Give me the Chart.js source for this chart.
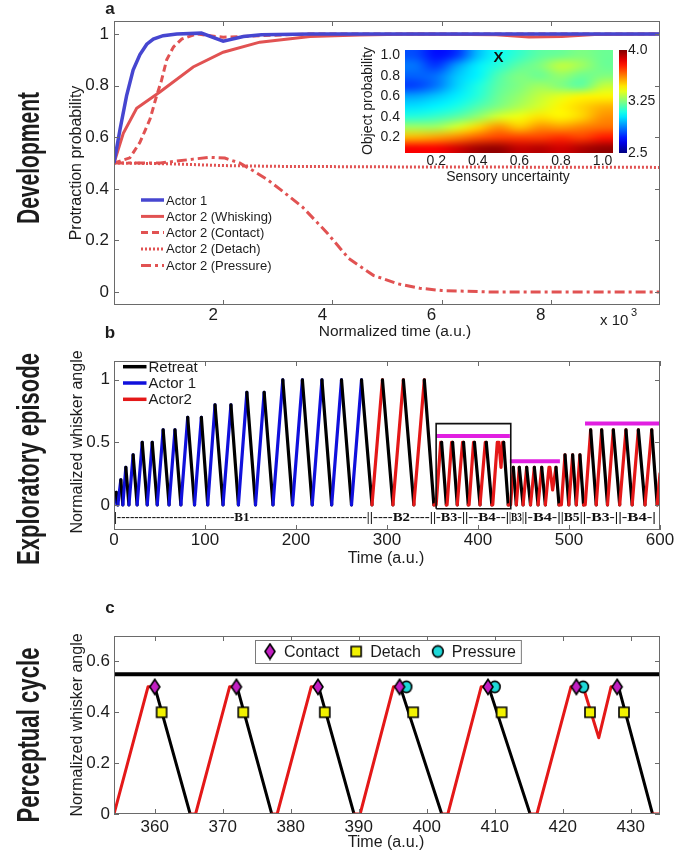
<!DOCTYPE html>
<html>
<head>
<meta charset="utf-8">
<title>Actor learning, exploratory episode and perceptual cycle</title>
<script src="https://cdn.jsdelivr.net/npm/chart.js@4.4.1/dist/chart.umd.min.js"></script>
<style>
  html, body { margin: 0; padding: 0; background: #fff; }
  #fig { position: relative; width: 674px; height: 852px; overflow: hidden; }
  #fig canvas { position: absolute; left: 0; top: 0; }
</style>
</head>
<body>
<div id="fig">
  <canvas id="panelA" width="674" height="852"></canvas>
  <canvas id="inset" width="674" height="852"></canvas>
  <canvas id="panelB" width="674" height="852"></canvas>
  <canvas id="panelC" width="674" height="852"></canvas>
</div>
<script>
// ─── Panel a: protraction probability during development ─────────────────────
const act1T      = [0, 110, 230, 350, 475, 600, 720, 900, 1150, 1600, 2000, 2370, 2700, 3600, 10000];
const act1P      = [0.5, 0.63, 0.76, 0.86, 0.92, 0.96, 0.98, 0.993, 1.0, 1.003, 0.972, 0.99, 0.997, 1.0, 1.0];
const whiskingT  = [0, 170, 415, 840, 1450, 2000, 2670, 3590, 4500, 5500, 7000, 7600, 8200, 8800, 10000];
const whiskingP  = [0.5, 0.615, 0.712, 0.775, 0.872, 0.929, 0.968, 0.99, 0.996, 1.0, 0.997, 0.988, 0.99, 0.998, 1.0];
const contactT   = [0, 290, 475, 660, 780, 870, 965, 1090, 1240, 1510, 1760, 2000, 2670, 3600, 10000];
const contactP   = [0.5, 0.52, 0.58, 0.67, 0.76, 0.82, 0.9, 0.95, 0.98, 1.0, 0.993, 0.987, 0.993, 1.0, 1.0];
const detachT    = [0, 1000, 2000, 3000, 5000, 10000];
const detachP    = [0.5, 0.497, 0.49, 0.487, 0.485, 0.483];
const pressureT  = [0, 850, 1450, 1750, 2030, 2300, 2550, 2800, 3050, 3450, 3900, 4300, 4750, 5200, 5600, 6000, 7000, 10000];
const pressureP  = [0.5, 0.5, 0.515, 0.522, 0.519, 0.5, 0.47, 0.437, 0.397, 0.33, 0.23, 0.13, 0.065, 0.032, 0.015, 0.006, 0, 0];
const devXTicks  = [2000, 4000, 6000, 8000];
const devYTicks  = [0, 0.2, 0.4, 0.6, 0.8, 1];

// inset: cost over sensory uncertainty x object probability
const uncertainty = [0.1, 0.2, 0.3, 0.4, 0.5, 0.6, 0.7, 0.8, 0.9, 1.0];
const objectProb  = [0.1, 0.2, 0.3, 0.4, 0.5, 0.6, 0.7, 0.8, 0.9, 1.0];
// rows from object probability 1.0 (top) down to 0.1, columns follow uncertainty
const costGrid = [
  [2.80, 2.70, 2.76, 2.97, 3.08, 3.14, 3.20, 3.22, 3.25, 3.22],
  [2.86, 2.76, 2.92, 3.04, 3.12, 3.20, 3.25, 3.35, 3.30, 3.22],
  [2.83, 2.85, 2.98, 3.05, 3.18, 3.25, 3.22, 3.28, 3.22, 3.25],
  [2.78, 2.86, 3.00, 3.10, 3.20, 3.25, 3.30, 3.25, 3.20, 3.35],
  [2.93, 2.98, 3.04, 3.12, 3.22, 3.28, 3.35, 3.40, 3.45, 3.45],
  [3.02, 3.05, 3.10, 3.18, 3.25, 3.32, 3.38, 3.45, 3.50, 3.55],
  [3.12, 3.15, 3.20, 3.28, 3.38, 3.42, 3.48, 3.45, 3.50, 3.60],
  [3.30, 3.30, 3.38, 3.50, 3.60, 3.52, 3.60, 3.58, 3.62, 3.65],
  [3.55, 3.58, 3.62, 3.68, 3.72, 3.72, 3.72, 3.75, 3.72, 3.78],
  [3.82, 3.82, 3.88, 3.95, 3.97, 3.90, 3.92, 3.88, 3.93, 3.97],
];
const costRange = [2.5, 4.0];
const costTicks = [2.5, 3.25, 4.0];
const insetTicks = [0.2, 0.4, 0.6, 0.8, 1.0];
const optimum = [0.5, 0.97];

// ─── Panel b: whisker angle over one exploratory episode ─────────────────────
const angleT = [
  0, 2.5, 4.2, 7.5, 9.7, 13, 16.4, 21, 25.4, 31, 36.5, 42, 47.5, 54, 60.5, 67, 73.5,
  81, 88.5, 96, 103, 111, 119.8, 128.5, 136.7, 146, 155.5, 165, 174.7, 185.5, 196.2,
  207, 217.8, 228.5, 239.2, 250, 261, 272, 283.5, 295, 306.5, 318, 329.5, 341, 351.5,
  354, 359, 360, 365.2, 366, 371, 372.1, 377.2, 378, 383, 384.1, 389.3, 390.2, 395.1,
  396.1, 402.2, 403.1, 408, 409.1, 415.2, 416.2, 421.2, 423, 425.3, 427.1, 428.2, 433.2,
  435.8, 438.8, 442.1, 445.4, 449.5, 453.5, 457.7, 461.9, 466, 470, 474, 478, 479, 482,
  485.7, 489, 491.6, 495.6, 499.8, 504, 508, 512, 516, 517.8, 523.8, 529.9, 535.9,
  542.3, 548.7, 555.7, 562.6, 569.4, 576.2, 583.5, 590.9, 596.9, 597.5, 600
];
const angleA = [
  0, 0.1, 0, 0.2, 0, 0.3, 0, 0.4, 0, 0.5, 0, 0.5, 0, 0.6, 0, 0.6, 0,
  0.7, 0, 0.7, 0, 0.8, 0, 0.8, 0, 0.9, 0, 0.9, 0, 1, 0,
  1, 0, 1, 0, 1, 0, 1, 0, 1, 0, 1, 0, 1, 0,
  0, 0.5, 0.5, 0, 0, 0.5, 0.5, 0, 0, 0.5, 0.5, 0, 0, 0.5,
  0.5, 0, 0, 0.5, 0.5, 0, 0, 0.5, 0.5, 0.3, 0.5, 0.5, 0,
  0, 0.3, 0, 0.3, 0, 0.3, 0, 0.3, 0, 0.3, 0, 0.3, 0.3, 0.12,
  0.3, 0, 0, 0.4, 0, 0.4, 0, 0.4, 0, 0, 0.6, 0, 0.6,
  0, 0.6, 0, 0.6, 0, 0.6, 0, 0.6, 0, 0, 0.25
];
const actor2From  = 283.5;                 // Actor 2 drives protraction from here on
const targetFrom  = [354.6, 435, 517.6];
const targetTo    = [435, 490, 600];
const targetLevel = [0.55, 0.35, 0.65];
const zoomBoxT    = [354, 436];
const zoomBoxA    = [-0.03, 0.65];
const blockEdges  = [0, 281, 350.5, 385.7, 434, 450.5, 491, 515, 554, 595.6];
const blockNames  = ['B1', 'B2', 'B3', 'B4', 'B3', 'B4', 'B5', 'B3', 'B4'];
const blockRowA   = -0.105;
const epiXTicks   = [0, 100, 200, 300, 400, 500, 600];
const epiYTicks   = [0, 0.5, 1];
const epiLegend   = ['Retreat', 'Actor 1', 'Actor2'];

// ─── Panel c: single perceptual cycles (zoom of the boxed part of b) ─────────
const contactEvT  = [360, 372, 384, 396, 409, 422, 428];
const contactEvA  = [0.5, 0.5, 0.5, 0.5, 0.5, 0.5, 0.5];
const detachEvT   = [361, 373, 385, 398, 411, 424, 429];
const detachEvA   = [0.4, 0.4, 0.4, 0.4, 0.4, 0.4, 0.4];
const pressureEvT = [397, 410, 423];
const pressureEvA = [0.5, 0.5, 0.5];
const thresholdA  = 0.55;
const cycRange    = [354, 434.3];
const cycXTicks   = [360, 370, 380, 390, 400, 410, 420, 430];
const cycYTicks   = [0, 0.2, 0.4, 0.6];

// ─── styling ─────────────────────────────────────────────────────────────────
const W = 674, H = 852;
const SANS = '"Liberation Sans", Arial, Helvetica, sans-serif';
const ROW_FONT = `bold 32px "Liberation Sans Narrow", ${SANS}`;
const INK = '#1c1c1c', FRAME = '#6a6a6a';
const BLUE_A = '#4646d0', RED_A = '#e15252';
const ACTOR1 = '#1010dc', ACTOR2 = '#e41818', RETREAT = '#000000', TARGET = '#e11fe1';

Chart.defaults.font.family = SANS;
Chart.defaults.color = INK;

const xy = (xs, ys) => xs.map((x, i) => ({ x, y: ys[i] }));

function zeroPad(s) { s.paddingLeft = s.paddingRight = s.paddingTop = s.paddingBottom = 0; }

// chart area placed at fixed page coordinates (all canvases cover the whole page)
function placeArea(box, yw, xh) {
  return { autoPadding: false, padding: { left: box.l - yw, right: W - box.r, top: box.t, bottom: H - box.b - xh } };
}

function axis(min, max, values, fmt, opts) {
  return {
    type: 'linear', min, max,
    afterBuildTicks: s => { s.ticks = values.map(v => ({ value: v })); },
    afterFit: s => { if (s.isHorizontal()) s.height = opts.size; else s.width = opts.size; zeroPad(s); },
    grid: { display: false, drawTicks: false },
    border: { display: false },
    ticks: {
      font: { family: SANS, size: opts.font || 17 }, color: INK, padding: opts.pad ?? 3,
      labelOffset: opts.offset || 0, maxRotation: 0, minRotation: 0, autoSkip: false, callback: fmt,
    },
  };
}

// MATLAB-like box with inward tick marks on all four sides
function framePlugin() {
  return {
    id: 'frame',
    afterDatasetsDraw(chart) {
      const { ctx, chartArea: a, scales: { x, y } } = chart;
      const len = 5;
      ctx.save();
      ctx.strokeStyle = FRAME;
      ctx.lineWidth = 1;
      ctx.beginPath();
      for (const t of x.ticks) {
        const px = Math.round(x.getPixelForValue(t.value)) + 0.5;
        ctx.moveTo(px, a.bottom); ctx.lineTo(px, a.bottom - len);
        ctx.moveTo(px, a.top); ctx.lineTo(px, a.top + len);
      }
      for (const t of y.ticks) {
        const py = Math.round(y.getPixelForValue(t.value)) + 0.5;
        ctx.moveTo(a.left, py); ctx.lineTo(a.left + len, py);
        ctx.moveTo(a.right, py); ctx.lineTo(a.right - len, py);
      }
      ctx.stroke();
      ctx.strokeRect(a.left + 0.5, a.top + 0.5, a.right - a.left - 1, a.bottom - a.top - 1);
      ctx.restore();
    },
  };
}

// free text at page coordinates (titles, panel letters, row labels)
function textPlugin(items) {
  return {
    id: 'texts',
    afterDraw(chart) {
      const ctx = chart.ctx;
      for (const t of items) {
        ctx.save();
        ctx.font = t.font;
        ctx.fillStyle = t.color || INK;
        ctx.textAlign = t.align || 'center';
        ctx.textBaseline = 'middle';
        ctx.translate(t.x, t.y);
        if (t.rot) ctx.rotate(t.rot * Math.PI / 180);
        if (t.fit) ctx.scale(t.fit / ctx.measureText(t.text).width, 1);
        ctx.fillText(t.text, 0, 0);
        ctx.restore();
      }
    },
  };
}

// plain line-sample legend, no box
function lineKeyPlugin(items, x1, x2, ys, font) {
  return {
    id: 'lineKey',
    afterDraw(chart) {
      const ctx = chart.ctx;
      ctx.save();
      ctx.font = font;
      ctx.fillStyle = INK;
      ctx.textBaseline = 'middle';
      items.forEach((it, i) => {
        ctx.strokeStyle = it.color;
        ctx.lineWidth = it.width;
        ctx.setLineDash(it.dash || []);
        ctx.beginPath();
        ctx.moveTo(x1, ys[i]); ctx.lineTo(x2, ys[i]);
        ctx.stroke();
        ctx.fillText(it.label, x2 + 2, ys[i] + 1);
      });
      ctx.restore();
    },
  };
}

function jet(t) {
  t = Math.max(0, Math.min(1, t));
  const f = c => Math.round(255 * Math.max(0, Math.min(1, 1.5 - Math.abs(4 * t - c))));
  return [f(3), f(2), f(1)];
}

// ─── Panel a ─────────────────────────────────────────────────────────────────
const boxA = { l: 114, r: 660, t: 21, b: 305 };
const devSets = [
  { label: 'Actor 1', t: act1T, p: act1P, color: BLUE_A, width: 3.5, dash: [] },
  { label: 'Actor 2 (Whisking)', t: whiskingT, p: whiskingP, color: RED_A, width: 3, dash: [] },
  { label: 'Actor 2 (Contact)', t: contactT, p: contactP, color: RED_A, width: 3, dash: [7, 4] },
  { label: 'Actor 2 (Detach)', t: detachT, p: detachP, color: RED_A, width: 3, dash: [2, 2] },
  { label: 'Actor 2 (Pressure)', t: pressureT, p: pressureP, color: RED_A, width: 3, dash: [10, 4, 3, 4] },
];

new Chart(document.getElementById('panelA'), {
  type: 'line',
  data: {
    datasets: devSets.map(d => ({
      label: d.label, data: xy(d.t, d.p),
      borderColor: d.color, borderWidth: d.width, borderDash: d.dash,
      pointRadius: 0, tension: 0, fill: false,
    })),
  },
  options: {
    responsive: false, animation: false, events: [], devicePixelRatio: 1,
    layout: placeArea(boxA, 50, 30),
    scales: {
      x: axis(0, 10000, devXTicks, v => v / 1000, { size: 30, pad: 0, offset: -10 }),
      y: axis(-0.05, 1.05, devYTicks, v => String(v), { size: 50, pad: 5 }),
    },
    plugins: { legend: { display: false }, tooltip: { enabled: false } },
  },
  plugins: [
    framePlugin(),
    lineKeyPlugin(devSets, 141, 164, [200, 216.4, 232.6, 248.9, 265.4], `13px ${SANS}`),
    textPlugin([
      { text: 'a', x: 110, y: 9, font: `bold 17px ${SANS}` },
      { text: 'Protraction probability', x: 77, y: 163, rot: -90, font: `16px ${SANS}` },
      { text: 'Normalized time (a.u.)', x: 395, y: 332, font: `15.5px ${SANS}` },
      { text: 'x 10', x: 600, y: 321, align: 'left', font: `15px ${SANS}` },
      { text: '3', x: 631, y: 313, align: 'left', font: `11px ${SANS}` },
      { text: 'Development', x: 30, y: 158, rot: -90, fit: 132, font: ROW_FONT },
      { text: 'Exploratory episode', x: 30, y: 459, rot: -90, fit: 212, font: ROW_FONT },
      { text: 'Perceptual cycle', x: 30, y: 735, rot: -90, fit: 175, font: ROW_FONT },
    ]),
  ],
});

// ─── Inset heat map ──────────────────────────────────────────────────────────
const boxInset = { l: 405, r: 613, t: 50, b: 153 };

const heatPlugin = {
  id: 'heat',
  beforeDatasetsDraw(chart) {
    const { ctx, scales: { x, y }, chartArea: a } = chart;
    const nx = uncertainty.length, ny = objectProb.length;
    const off = document.createElement('canvas');
    off.width = nx; off.height = ny;
    const g = off.getContext('2d');
    const img = g.createImageData(nx, ny);
    costGrid.forEach((row, r) => row.forEach((v, c) => {
      const [R, G, B] = jet((v - costRange[0]) / (costRange[1] - costRange[0]));
      const k = (r * nx + c) * 4;
      img.data[k] = R; img.data[k + 1] = G; img.data[k + 2] = B; img.data[k + 3] = 255;
    }));
    g.putImageData(img, 0, 0);
    // cells reach half a step past the first and last centres
    const du = (uncertainty[1] - uncertainty[0]) / 2, dp = (objectProb[1] - objectProb[0]) / 2;
    const left = x.getPixelForValue(uncertainty[0] - du), right = x.getPixelForValue(uncertainty[nx - 1] + du);
    const top = y.getPixelForValue(objectProb[ny - 1] + dp), bottom = y.getPixelForValue(objectProb[0] - dp);
    ctx.save();
    ctx.imageSmoothingEnabled = true;
    ctx.imageSmoothingQuality = 'high';
    ctx.drawImage(off, left, top, right - left, bottom - top);

    // colour bar
    const cbL = a.right + 6, cbW = 8;
    const grad = ctx.createLinearGradient(0, a.bottom, 0, a.top);
    for (let i = 0; i <= 20; i++) {
      const [R, G, B] = jet(i / 20);
      grad.addColorStop(i / 20, `rgb(${R},${G},${B})`);
    }
    ctx.fillStyle = grad;
    ctx.fillRect(cbL, a.top, cbW, a.bottom - a.top);
    ctx.font = `14px ${SANS}`;
    ctx.fillStyle = INK;
    ctx.textAlign = 'left';
    ctx.textBaseline = 'middle';
    for (const v of costTicks) {
      const py = a.bottom - (v - costRange[0]) / (costRange[1] - costRange[0]) * (a.bottom - a.top);
      ctx.fillText(Number.isInteger(v * 10) ? v.toFixed(1) : v.toFixed(2), cbL + cbW + 1, py);
    }
    // optimum marker
    ctx.font = `bold 15px ${SANS}`;
    ctx.textAlign = 'center';
    ctx.fillStyle = '#111';
    ctx.fillText('X', x.getPixelForValue(optimum[0]), y.getPixelForValue(optimum[1]));
    ctx.restore();
  },
};

new Chart(document.getElementById('inset'), {
  type: 'line',
  data: { datasets: [] },
  options: {
    responsive: false, animation: false, events: [], devicePixelRatio: 1,
    layout: placeArea(boxInset, 36, 18),
    scales: {
      x: axis(0.05, 1.05, insetTicks, v => v.toFixed(1), { size: 18, pad: 0, font: 14 }),
      y: axis(0.05, 1.05, insetTicks, v => v.toFixed(1), { size: 36, pad: 5, font: 14 }),
    },
    plugins: { legend: { display: false }, tooltip: { enabled: false } },
  },
  plugins: [
    heatPlugin,
    textPlugin([
      { text: 'Object probability', x: 368, y: 101, rot: -90, font: `14px ${SANS}` },
      { text: 'Sensory uncertainty', x: 508, y: 177, font: `14px ${SANS}` },
    ]),
  ],
});

// ─── Panel b ─────────────────────────────────────────────────────────────────
// falls that end at rest are retreats; everything else belongs to the acting actor
const segColor = ctx => {
  const y0 = ctx.p0.parsed.y, y1 = ctx.p1.parsed.y;
  if (y1 < y0 && y1 === 0) return RETREAT;
  return ctx.p0.parsed.x < actor2From ? ACTOR1 : ACTOR2;
};

function traceSet(width) {
  return {
    data: xy(angleT, angleA), borderWidth: width, pointRadius: 0, tension: 0,
    borderColor: ACTOR2, borderCapStyle: 'round', borderJoinStyle: 'round',
    segment: { borderColor: segColor }, order: 5,
  };
}

const blockPlugin = {
  id: 'blocks',
  afterDatasetsDraw(chart) {
    const { ctx, scales: { x, y } } = chart;
    const py = y.getPixelForValue(blockRowA);
    ctx.save();
    ctx.font = `bold 13px "Liberation Serif", "Times New Roman", serif`;
    ctx.fillStyle = '#111';
    ctx.textAlign = 'left';
    ctx.textBaseline = 'middle';
    const dashW = ctx.measureText('-').width;
    blockNames.forEach((name, i) => {
      const l = x.getPixelForValue(blockEdges[i]), r = x.getPixelForValue(blockEdges[i + 1]);
      const core = ctx.measureText('|' + name + '|').width;
      const n = Math.max(0, Math.floor((r - l - core) / dashW / 2));
      const s = '|' + '-'.repeat(n) + name + '-'.repeat(n) + '|';
      const w = ctx.measureText(s).width;
      ctx.save();
      ctx.translate(l, py);
      ctx.scale((r - l) / w, 1);
      ctx.fillText(s, 0, 0);
      ctx.restore();
    });
    ctx.restore();
  },
};

const boxB = { l: 114, r: 660, t: 361, b: 530 };
new Chart(document.getElementById('panelB'), {
  type: 'line',
  data: {
    datasets: [
      traceSet(3.2),
      ...targetLevel.map((lv, i) => ({
        data: [{ x: targetFrom[i], y: lv }, { x: targetTo[i], y: lv }],
        borderColor: TARGET, borderWidth: 4, pointRadius: 0, order: 2,
      })),
      {
        data: [
          { x: zoomBoxT[0], y: zoomBoxA[0] }, { x: zoomBoxT[0], y: zoomBoxA[1] },
          { x: zoomBoxT[1], y: zoomBoxA[1] }, { x: zoomBoxT[1], y: zoomBoxA[0] },
          { x: zoomBoxT[0], y: zoomBoxA[0] },
        ],
        borderColor: '#111', borderWidth: 1.6, pointRadius: 0, order: 1,
      },
    ],
  },
  options: {
    responsive: false, animation: false, events: [], devicePixelRatio: 1,
    layout: placeArea(boxB, 50, 30),
    scales: {
      x: axis(0, 600, epiXTicks, v => String(v), { size: 30, pad: 0 }),
      y: axis(-0.2, 1.15, epiYTicks, v => String(v), { size: 50, pad: 4 }),
    },
    plugins: { legend: { display: false }, tooltip: { enabled: false } },
  },
  plugins: [
    framePlugin(),
    blockPlugin,
    lineKeyPlugin(
      epiLegend.map((label, i) => ({ label, color: [RETREAT, ACTOR1, ACTOR2][i], width: 3.5 })),
      123, 146.5, [366.7, 383, 399.3], `15px ${SANS}`
    ),
    textPlugin([
      { text: 'b', x: 110, y: 333, font: `bold 17px ${SANS}` },
      { text: 'Normalized whisker angle', x: 78, y: 442, rot: -90, font: `16px ${SANS}` },
      { text: 'Time (a.u.)', x: 386, y: 559, font: `16px ${SANS}` },
    ]),
  ],
});

// ─── Panel c ─────────────────────────────────────────────────────────────────
function markerImg(kind, fill) {
  const c = document.createElement('canvas');
  c.width = 16; c.height = 18;
  const g = c.getContext('2d');
  g.fillStyle = fill;
  g.strokeStyle = '#000';
  g.lineWidth = 1.6;
  g.beginPath();
  if (kind === 'diamond') { g.moveTo(8, 1.5); g.lineTo(13, 9); g.lineTo(8, 16.5); g.lineTo(3, 9); g.closePath(); }
  else if (kind === 'square') { g.rect(3, 4, 10, 10); }
  else { g.ellipse(8, 9, 5.3, 5.6, 0, 0, Math.PI * 2); }
  g.fill();
  g.stroke();
  return c;
}

const events = [
  { label: 'Contact', t: contactEvT, a: contactEvA, img: markerImg('diamond', '#c21fc2') },
  { label: 'Detach', t: detachEvT, a: detachEvA, img: markerImg('square', '#f2f200') },
  { label: 'Pressure', t: pressureEvT, a: pressureEvA, img: markerImg('circle', '#1ed8d8') },
];

const markerKey = {
  id: 'markerKey',
  afterDraw(chart) {
    const ctx = chart.ctx;
    const top = 640, bottom = 663, cy = (top + bottom) / 2, left = 255;
    ctx.save();
    ctx.font = `16px ${SANS}`;
    let x = left + 15;
    const slots = events.map(ev => {
      const s = { ev, mx: x, tx: x + 14 };
      x = s.tx + ctx.measureText(ev.label).width + 17;
      return s;
    });
    const right = x - 17 + 5;
    ctx.fillStyle = '#fff';
    ctx.fillRect(left, top, right - left, bottom - top);
    ctx.strokeStyle = '#7a7a7a';
    ctx.lineWidth = 1;
    ctx.strokeRect(left + 0.5, top + 0.5, right - left, bottom - top);
    ctx.fillStyle = INK;
    ctx.textBaseline = 'middle';
    for (const s of slots) {
      ctx.drawImage(s.ev.img, s.mx - s.ev.img.width / 2, cy - s.ev.img.height / 2);
      ctx.fillText(s.ev.label, s.tx, cy + 1);
    }
    ctx.restore();
  },
};

const boxC = { l: 114, r: 660, t: 636, b: 814 };
new Chart(document.getElementById('panelC'), {
  type: 'line',
  data: {
    datasets: [
      ...events.map((ev, i) => ({
        data: xy(ev.t, ev.a), showLine: false, pointStyle: ev.img, pointRadius: 6, order: i,
      })),
      {
        data: [{ x: cycRange[0], y: thresholdA }, { x: cycRange[1], y: thresholdA }],
        borderColor: '#000', borderWidth: 4, pointRadius: 0, order: 4,
      },
      traceSet(3),
    ],
  },
  options: {
    responsive: false, animation: false, events: [], devicePixelRatio: 1,
    layout: placeArea(boxC, 50, 30),
    scales: {
      x: axis(cycRange[0], cycRange[1], cycXTicks, v => String(v), { size: 30, pad: 3 }),
      y: axis(0, 0.7, cycYTicks, v => String(v), { size: 50, pad: 4 }),
    },
    plugins: { legend: { display: false }, tooltip: { enabled: false } },
  },
  plugins: [
    framePlugin(),
    markerKey,
    textPlugin([
      { text: 'c', x: 110, y: 608, font: `bold 17px ${SANS}` },
      { text: 'Normalized whisker angle', x: 78, y: 725, rot: -90, font: `16px ${SANS}` },
      { text: 'Time (a.u.)', x: 386, y: 843, font: `16px ${SANS}` },
    ]),
  ],
});
</script>
</body>
</html>
